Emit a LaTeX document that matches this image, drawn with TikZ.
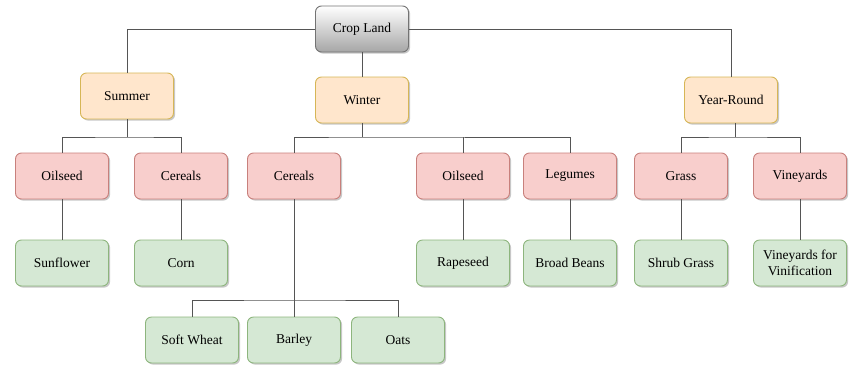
\documentclass[tikz,border=0pt]{standalone}
\usepackage{fontspec}
\setmainfont{Liberation Serif}
\usetikzlibrary{shadows}
\definecolor{seasonfill}{HTML}{FFE6CC}
\definecolor{seasonline}{HTML}{D6B656}
\definecolor{groupfill}{HTML}{F8CECC}
\definecolor{groupline}{HTML}{C8807C}
\definecolor{cropfill}{HTML}{D5E8D4}
\definecolor{cropline}{HTML}{8DB57D}
\definecolor{linkcol}{HTML}{555555}
\begin{document}
\begin{tikzpicture}[x=1pt,y=-1pt,
  box/.style={draw, rounded corners=6pt, minimum width=93pt, minimum height=46pt,
    align=center, inner sep=2pt, line width=0.9pt,
    font=\fontsize{13.5}{16.5}\selectfont,
    drop shadow={shadow xshift=1.6pt, shadow yshift=-1.6pt, opacity=0.22, fill=black}},
  rootbox/.style={box, draw=black!55, top color=white, bottom color=black!35},
  seasonbox/.style={box, fill=seasonfill, draw=seasonline},
  groupbox/.style={box, fill=groupfill, draw=groupline},
  cropbox/.style={box, fill=cropfill, draw=cropline},
  link/.style={draw=linkcol, line width=1pt}
]
\useasboundingbox (0,0) rectangle (849,365);

% root and seasons
\node[rootbox]   (root)   at (362,29)  {Crop Land};
\node[seasonbox] (summer) at (127,96)  {Summer};
\node[seasonbox] (winter) at (362,100) {Winter};
\node[seasonbox] (year)   at (731,100) {Year-Round};

% crop groups
\node[groupbox] (s1) at (62,176)  {Oilseed};
\node[groupbox] (s2) at (181,176) {Cereals};
\node[groupbox] (w1) at (294,176) {Cereals};
\node[groupbox] (w2) at (463,176) {Oilseed};
\node[groupbox] (w3) at (570,176) {Legumes};
\node[groupbox] (y1) at (681,176) {Grass};
\node[groupbox] (y2) at (800,176) {Vineyards};

% crops
\node[cropbox] (sunflower) at (62,263)  {Sunflower};
\node[cropbox] (corn)      at (181,263) {Corn};
\node[cropbox] (rapeseed)  at (463,263) {Rapeseed};
\node[cropbox] (beans)     at (570,263) {Broad Beans};
\node[cropbox] (shrub)     at (681,263) {Shrub Grass};
\node[cropbox] (vines)     at (800,263) {Vineyards for\\Vinification};
\node[cropbox] (wheat)     at (192,340) {Soft Wheat};
\node[cropbox] (barley)    at (294,340) {Barley};
\node[cropbox] (oats)      at (398,340) {Oats};

% junction points
\coordinate (sj) at (127,137);
\coordinate (wj) at (362,137);
\coordinate (yj) at (735,137);
\coordinate (cj) at (294,300);

% root to seasons
\draw[link] (root.west) -| (summer.north);
\draw[link] (root.east) -| (year.north);
\draw[link] (root.south) -- (winter.north);

% seasons to groups
\draw[link] (summer.south) -- (sj);
\draw[link] (s1.north) |- (sj) -| (s2.north);
\draw[link] (winter.south) -- (wj);
\draw[link] (w1.north) |- (wj) -| (w3.north);
\draw[link] (w2.north) -- (w2.north |- wj);
\draw[link] (year.south -| yj) -- (yj);
\draw[link] (y1.north) |- (yj) -| (y2.north);

% groups to crops
\draw[link] (s1) -- (sunflower);
\draw[link] (s2) -- (corn);
\draw[link] (w2) -- (rapeseed);
\draw[link] (w3) -- (beans);
\draw[link] (y1) -- (shrub);
\draw[link] (y2) -- (vines);
\draw[link] (w1.south) -- (barley.north);
\draw[link] (wheat.north) |- (cj) -| (oats.north);
\end{tikzpicture}
\end{document}
